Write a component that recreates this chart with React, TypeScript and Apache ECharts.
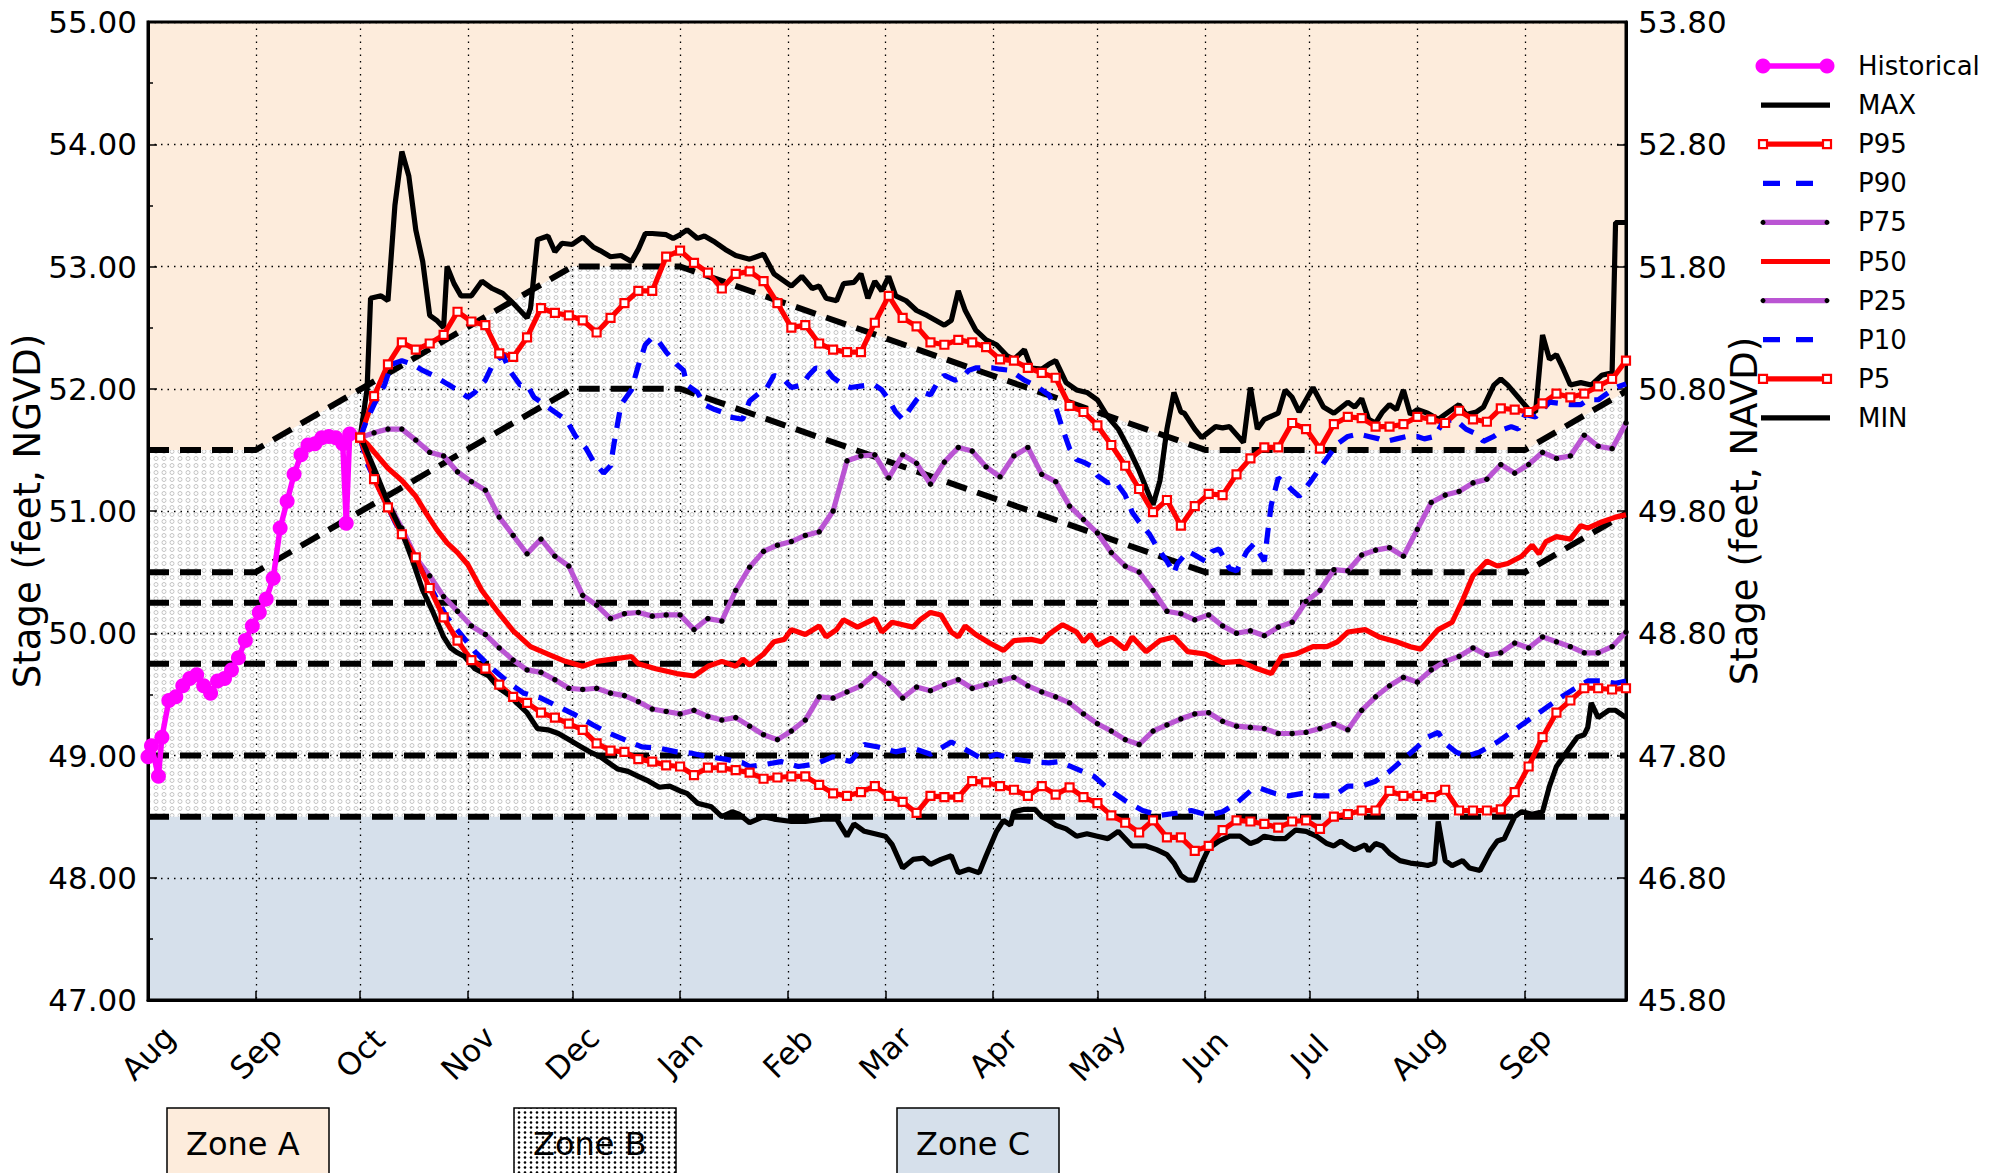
import React, { useEffect, useRef } from "react";
import * as echarts from "echarts";

const FONT = "DejaVu Sans";

// ---- axis definitions ----
const monthStarts = [0, 31, 61, 92, 122, 153, 184, 212, 243, 273, 304, 334, 365, 396];
const monthLabels = ["Aug", "Sep", "Oct", "Nov", "Dec", "Jan", "Feb", "Mar", "Apr", "May", "Jun", "Jul", "Aug", "Sep"];
const xMax = 425;
const yMin = 47;
const yMax = 55;
const navdOffset = 1.2;

// ---- zone rule curves ----
const zoneUpper = [[0, 51.5], [31, 51.5], [122, 53.0], [153, 53.0], [304, 51.5], [396, 51.5], [425, 51.98]];
const zoneLower = [[0, 50.5], [31, 50.5], [122, 52.0], [153, 52.0], [304, 50.5], [396, 50.5], [425, 50.98]];
const ruleLevels = [50.25, 49.75, 49.0, 48.5];
const zoneCTop = 48.5;

// ---- historical ----
const histDays = [0, 1, 3, 4, 6, 8, 10, 12, 14, 16, 18, 20, 22, 24, 26, 28, 30, 32, 34, 36, 38, 40, 42, 44, 46, 48, 50, 52, 54, 56, 57, 58];
const histValues = [48.99, 49.08, 48.83, 49.15, 49.45, 49.48, 49.57, 49.63, 49.66, 49.57, 49.51, 49.61, 49.63, 49.7, 49.8, 49.94, 50.06, 50.17, 50.28, 50.45, 50.86, 51.08, 51.3, 51.46, 51.54, 51.55, 51.6, 51.61, 51.6, 51.55, 50.9, 51.63];

// ---- marker series (sampled every 4 days) ----
const stepDays = [61, 65, 69, 73, 77, 81, 85, 89, 93, 97, 101, 105, 109, 113, 117, 121, 125, 129, 133, 137, 141, 145, 149, 153, 157, 161, 165, 169, 173, 177, 181, 185, 189, 193, 197, 201, 205, 209, 213, 217, 221, 225, 229, 233, 237, 241, 245, 249, 253, 257, 261, 265, 269, 273, 277, 281, 285, 289, 293, 297, 301, 305, 309, 313, 317, 321, 325, 329, 333, 337, 341, 345, 349, 353, 357, 361, 365, 369, 373, 377, 381, 385, 389, 393, 397, 401, 405, 409, 413, 417, 421, 425];
const p95Values = [51.6, 51.94, 52.2, 52.38, 52.32, 52.37, 52.44, 52.63, 52.55, 52.52, 52.29, 52.26, 52.42, 52.66, 52.62, 52.6, 52.56, 52.46, 52.58, 52.7, 52.8, 52.8, 53.08, 53.13, 53.03, 52.95, 52.82, 52.94, 52.96, 52.88, 52.7, 52.5, 52.52, 52.37, 52.32, 52.3, 52.3, 52.54, 52.76, 52.58, 52.51, 52.38, 52.36, 52.4, 52.38, 52.34, 52.24, 52.23, 52.17, 52.13, 52.09, 51.86, 51.81, 51.7, 51.54, 51.37, 51.18, 50.99, 51.09, 50.88, 51.04, 51.14, 51.13, 51.3, 51.43, 51.52, 51.52, 51.72, 51.67, 51.51, 51.71, 51.77, 51.76, 51.69, 51.69, 51.71, 51.77, 51.75, 51.72, 51.82, 51.75, 51.73, 51.84, 51.83, 51.81, 51.88, 51.96, 51.93, 51.96, 52.02, 52.08, 52.23];
const p75Values = [51.6, 51.64, 51.67, 51.67, 51.58, 51.48, 51.45, 51.32, 51.24, 51.17, 50.95, 50.8, 50.65, 50.77, 50.63, 50.55, 50.31, 50.23, 50.12, 50.16, 50.17, 50.14, 50.15, 50.15, 50.03, 50.12, 50.1, 50.35, 50.54, 50.67, 50.72, 50.75, 50.8, 50.83, 51.0, 51.41, 51.45, 51.46, 51.27, 51.46, 51.39, 51.22, 51.4, 51.52, 51.49, 51.36, 51.28, 51.45, 51.52, 51.3, 51.24, 51.04, 50.93, 50.82, 50.66, 50.55, 50.5, 50.35, 50.18, 50.16, 50.11, 50.15, 50.06, 50.0, 50.02, 49.98, 50.05, 50.09, 50.26, 50.35, 50.52, 50.51, 50.64, 50.68, 50.7, 50.63, 50.85, 51.07, 51.13, 51.16, 51.23, 51.26, 51.38, 51.31, 51.38, 51.48, 51.43, 51.45, 51.62, 51.53, 51.51, 51.72];
const p25Values = [51.6, 51.32, 51.07, 50.86, 50.62, 50.47, 50.3, 50.18, 50.06, 49.99, 49.88, 49.78, 49.7, 49.68, 49.62, 49.55, 49.54, 49.55, 49.51, 49.49, 49.44, 49.38, 49.36, 49.34, 49.37, 49.32, 49.29, 49.31, 49.24, 49.17, 49.13, 49.2, 49.29, 49.48, 49.47, 49.52, 49.57, 49.67, 49.59, 49.47, 49.56, 49.53, 49.58, 49.62, 49.55, 49.58, 49.61, 49.64, 49.57, 49.52, 49.48, 49.43, 49.34, 49.26, 49.2, 49.13, 49.09, 49.2, 49.25, 49.3, 49.34, 49.35, 49.28, 49.24, 49.23, 49.22, 49.18, 49.18, 49.19, 49.22, 49.26, 49.21, 49.37, 49.48, 49.57, 49.64, 49.6, 49.7, 49.77, 49.81, 49.88, 49.82, 49.84, 49.92, 49.88, 49.97, 49.93, 49.89, 49.84, 49.84, 49.89, 50.01];
const p5Values = [51.6, 51.26, 51.03, 50.81, 50.62, 50.37, 50.13, 49.94, 49.78, 49.71, 49.58, 49.48, 49.43, 49.35, 49.31, 49.26, 49.21, 49.1, 49.04, 49.03, 48.97, 48.95, 48.92, 48.91, 48.84, 48.9, 48.9, 48.88, 48.86, 48.81, 48.82, 48.83, 48.83, 48.76, 48.69, 48.67, 48.7, 48.75, 48.67, 48.62, 48.53, 48.67, 48.66, 48.66, 48.79, 48.78, 48.75, 48.72, 48.67, 48.75, 48.68, 48.74, 48.66, 48.61, 48.51, 48.45, 48.37, 48.47, 48.33, 48.33, 48.22, 48.26, 48.39, 48.47, 48.46, 48.44, 48.41, 48.46, 48.47, 48.4, 48.5, 48.52, 48.55, 48.55, 48.71, 48.67, 48.67, 48.66, 48.72, 48.55, 48.55, 48.55, 48.56, 48.7, 48.91, 49.15, 49.35, 49.45, 49.55, 49.55, 49.54, 49.55];

// ---- line-only series ([day, stage]) ----
const maxSeries = [[61, 51.6], [63, 52.0], [64, 52.74], [67, 52.76], [69, 52.72], [71, 53.5], [73, 53.94], [75, 53.74], [77, 53.3], [79, 53.04], [81, 52.6], [83, 52.56], [85, 52.5], [86, 53.0], [88, 52.86], [90, 52.76], [93, 52.76], [96, 52.88], [99, 52.82], [102, 52.78], [105, 52.7], [107, 52.64], [109, 52.58], [110, 52.66], [112, 53.22], [115, 53.25], [117, 53.12], [119, 53.19], [122, 53.18], [125, 53.24], [128, 53.16], [130, 53.13], [133, 53.08], [136, 53.09], [139, 53.04], [141, 53.14], [143, 53.27], [145, 53.27], [149, 53.26], [151, 53.23], [153, 53.26], [155, 53.3], [158, 53.23], [160, 53.25], [163, 53.2], [166, 53.14], [169, 53.09], [173, 53.06], [175, 53.08], [177, 53.1], [180, 52.94], [185, 52.84], [188, 52.92], [191, 52.82], [193, 52.84], [195, 52.74], [198, 52.72], [200, 52.86], [203, 52.87], [205, 52.94], [207, 52.74], [209, 52.88], [211, 52.8], [213, 52.92], [215, 52.76], [218, 52.72], [221, 52.64], [224, 52.6], [229, 52.52], [231, 52.56], [233, 52.8], [235, 52.64], [238, 52.48], [241, 52.4], [244, 52.36], [247, 52.27], [249, 52.24], [252, 52.32], [254, 52.17], [257, 52.16], [259, 52.2], [261, 52.23], [264, 52.05], [267, 51.99], [270, 51.97], [273, 51.91], [276, 51.77], [279, 51.67], [282, 51.51], [285, 51.33], [287, 51.19], [289, 51.05], [291, 51.25], [293, 51.67], [295, 51.97], [297, 51.81], [298, 51.8], [301, 51.67], [303, 51.6], [307, 51.69], [309, 51.68], [311, 51.69], [315, 51.56], [317, 52.01], [319, 51.67], [321, 51.75], [325, 51.8], [327, 51.99], [329, 51.93], [331, 51.81], [335, 52.01], [338, 51.85], [341, 51.8], [345, 51.89], [347, 51.85], [349, 51.92], [351, 51.75], [353, 51.72], [355, 51.81], [357, 51.87], [359, 51.83], [361, 51.99], [363, 51.79], [365, 51.83], [368, 51.8], [371, 51.75], [374, 51.81], [377, 51.87], [379, 51.79], [382, 51.81], [384, 51.85], [387, 52.03], [389, 52.08], [391, 52.03], [394, 51.93], [397, 51.83], [399, 51.81], [401, 52.44], [403, 52.24], [405, 52.28], [407, 52.16], [409, 52.03], [412, 52.05], [415, 52.03], [418, 52.11], [421, 52.13], [422, 53.36], [425, 53.36]];

const p90Series = [[61, 51.6], [63, 51.75], [65, 51.87], [68, 52.03], [70, 52.2], [73, 52.23], [76, 52.2], [79, 52.15], [82, 52.11], [86, 52.04], [89, 51.99], [92, 51.93], [94, 51.97], [97, 52.07], [99, 52.19], [102, 52.28], [104, 52.15], [107, 52.03], [109, 52.03], [111, 51.93], [114, 51.87], [116, 51.83], [119, 51.77], [121, 51.71], [123, 51.61], [126, 51.51], [128, 51.41], [131, 51.31], [133, 51.37], [134, 51.55], [135, 51.71], [136, 51.87], [139, 51.99], [141, 52.19], [143, 52.36], [145, 52.42], [147, 52.38], [149, 52.3], [152, 52.2], [154, 52.15], [155, 52.03], [158, 51.97], [160, 51.87], [163, 51.83], [165, 51.81], [167, 51.77], [171, 51.75], [173, 51.9], [176, 51.97], [178, 52.01], [180, 52.11], [183, 52.07], [185, 52.01], [188, 52.03], [190, 52.11], [192, 52.17], [195, 52.16], [197, 52.09], [200, 52.03], [202, 52.01], [207, 52.03], [209, 52.03], [211, 51.99], [213, 51.91], [215, 51.81], [217, 51.75], [219, 51.83], [221, 51.91], [223, 51.97], [225, 51.95], [227, 52.05], [229, 52.11], [232, 52.07], [234, 52.09], [236, 52.15], [238, 52.17], [243, 52.17], [245, 52.16], [248, 52.15], [250, 52.11], [252, 52.07], [255, 52.03], [257, 51.99], [259, 51.95], [261, 51.85], [263, 51.67], [265, 51.51], [267, 51.42], [269, 51.4], [271, 51.37], [273, 51.29], [276, 51.23], [278, 51.25], [281, 51.13], [283, 50.99], [285, 50.91], [288, 50.81], [290, 50.71], [293, 50.59], [295, 50.49], [296, 50.57], [299, 50.67], [301, 50.64], [304, 50.59], [306, 50.67], [308, 50.69], [311, 50.53], [313, 50.51], [316, 50.67], [318, 50.73], [321, 50.59], [322, 50.83], [323, 51.05], [325, 51.27], [327, 51.23], [329, 51.17], [331, 51.12], [334, 51.23], [336, 51.31], [338, 51.39], [340, 51.47], [342, 51.55], [345, 51.61], [348, 51.63], [351, 51.61], [354, 51.59], [356, 51.57], [359, 51.59], [362, 51.61], [365, 51.61], [367, 51.59], [370, 51.61], [372, 51.71], [375, 51.75], [377, 51.72], [379, 51.67], [382, 51.63], [384, 51.57], [387, 51.61], [390, 51.67], [392, 51.69], [394, 51.67], [396, 51.79], [399, 51.77], [401, 51.83], [403, 51.89], [406, 51.88], [409, 51.87], [412, 51.87], [414, 51.91], [417, 51.91], [419, 51.95], [422, 52.01], [425, 52.04]];

const p50Series = [[61, 51.6], [63, 51.55], [66, 51.45], [69, 51.35], [73, 51.25], [77, 51.12], [80, 50.98], [83, 50.85], [86, 50.74], [89, 50.66], [92, 50.56], [96, 50.35], [101, 50.16], [105, 50.02], [110, 49.89], [115, 49.83], [120, 49.77], [125, 49.73], [129, 49.77], [134, 49.79], [139, 49.81], [141, 49.75], [146, 49.71], [152, 49.67], [157, 49.65], [161, 49.73], [165, 49.77], [169, 49.73], [171, 49.79], [173, 49.74], [177, 49.83], [180, 49.93], [183, 49.95], [185, 50.03], [189, 49.99], [193, 50.06], [195, 49.97], [198, 50.03], [200, 50.11], [204, 50.05], [209, 50.12], [211, 50.01], [214, 50.09], [217, 50.07], [220, 50.05], [222, 50.11], [225, 50.17], [228, 50.15], [231, 50.01], [233, 49.97], [235, 50.06], [238, 49.99], [242, 49.92], [246, 49.86], [249, 49.94], [254, 49.95], [257, 49.93], [259, 49.99], [263, 50.07], [267, 50.01], [269, 49.93], [271, 49.99], [273, 49.9], [277, 49.96], [281, 49.87], [283, 49.97], [287, 49.85], [291, 49.94], [295, 49.97], [299, 49.85], [304, 49.83], [309, 49.76], [314, 49.77], [318, 49.72], [323, 49.67], [326, 49.81], [330, 49.83], [335, 49.89], [339, 49.89], [342, 49.93], [345, 50.01], [350, 50.03], [354, 49.97], [359, 49.93], [363, 49.89], [366, 49.87], [371, 50.03], [375, 50.09], [378, 50.27], [381, 50.47], [385, 50.59], [388, 50.55], [391, 50.57], [395, 50.63], [398, 50.72], [400, 50.65], [402, 50.75], [405, 50.79], [409, 50.77], [412, 50.88], [414, 50.86], [418, 50.91], [422, 50.95], [425, 50.97]];

const p10Series = [[61, 51.6], [63, 51.39], [67, 51.15], [71, 50.91], [75, 50.71], [81, 50.39], [84, 50.23], [86, 50.13], [90, 49.99], [94, 49.85], [99, 49.71], [104, 49.59], [108, 49.51], [113, 49.47], [118, 49.4], [123, 49.33], [128, 49.25], [132, 49.19], [137, 49.13], [142, 49.07], [147, 49.06], [152, 49.03], [156, 49.02], [161, 48.99], [166, 48.97], [171, 48.94], [173, 48.91], [178, 48.93], [182, 48.95], [187, 48.91], [192, 48.93], [197, 48.99], [202, 48.95], [206, 49.09], [210, 49.07], [215, 49.03], [220, 49.06], [225, 49.01], [228, 49.06], [231, 49.11], [235, 49.05], [240, 48.97], [244, 49.01], [249, 48.97], [254, 48.95], [259, 48.94], [262, 48.95], [267, 48.89], [272, 48.83], [276, 48.73], [281, 48.63], [286, 48.55], [291, 48.51], [296, 48.53], [300, 48.55], [305, 48.51], [309, 48.54], [313, 48.61], [317, 48.71], [320, 48.73], [324, 48.69], [328, 48.67], [332, 48.69], [336, 48.67], [341, 48.67], [345, 48.75], [349, 48.75], [353, 48.79], [357, 48.87], [361, 48.97], [365, 49.07], [368, 49.15], [371, 49.19], [373, 49.1], [376, 49.03], [379, 48.99], [383, 49.03], [388, 49.11], [391, 49.17], [395, 49.25], [399, 49.33], [403, 49.41], [407, 49.49], [411, 49.56], [414, 49.61], [418, 49.61], [422, 49.59], [425, 49.61]];

const minSeries = [[61, 51.6], [62, 51.55], [65, 51.35], [69, 51.07], [73, 50.83], [76, 50.6], [79, 50.35], [82, 50.17], [85, 49.97], [87, 49.88], [89, 49.84], [91, 49.81], [94, 49.71], [98, 49.65], [101, 49.55], [104, 49.49], [106, 49.43], [109, 49.35], [112, 49.22], [115, 49.21], [118, 49.18], [121, 49.13], [124, 49.08], [127, 49.03], [130, 48.99], [132, 48.95], [135, 48.89], [138, 48.87], [141, 48.83], [144, 48.79], [147, 48.74], [150, 48.75], [153, 48.71], [155, 48.69], [158, 48.61], [162, 48.58], [165, 48.5], [168, 48.54], [170, 48.52], [173, 48.45], [177, 48.5], [180, 48.48], [185, 48.46], [189, 48.46], [194, 48.48], [198, 48.48], [201, 48.34], [203, 48.44], [206, 48.38], [209, 48.36], [212, 48.34], [214, 48.27], [217, 48.08], [220, 48.15], [223, 48.16], [225, 48.11], [228, 48.15], [231, 48.18], [233, 48.04], [236, 48.07], [239, 48.04], [241, 48.18], [244, 48.38], [246, 48.47], [248, 48.43], [249, 48.54], [252, 48.56], [255, 48.56], [257, 48.5], [259, 48.47], [261, 48.43], [264, 48.4], [267, 48.34], [270, 48.36], [273, 48.34], [276, 48.32], [279, 48.38], [283, 48.26], [287, 48.26], [290, 48.23], [293, 48.19], [295, 48.12], [297, 48.02], [299, 47.98], [301, 47.98], [303, 48.12], [305, 48.24], [308, 48.3], [311, 48.34], [314, 48.34], [317, 48.28], [319, 48.3], [321, 48.34], [324, 48.32], [327, 48.32], [330, 48.39], [333, 48.38], [336, 48.34], [339, 48.28], [341, 48.26], [343, 48.3], [345, 48.26], [347, 48.23], [350, 48.27], [351, 48.22], [353, 48.28], [355, 48.26], [357, 48.2], [360, 48.14], [363, 48.12], [366, 48.11], [368, 48.1], [370, 48.12], [371, 48.46], [373, 48.14], [375, 48.1], [378, 48.14], [380, 48.08], [383, 48.06], [386, 48.22], [388, 48.3], [390, 48.32], [393, 48.5], [395, 48.54], [398, 48.52], [401, 48.54], [403, 48.75], [405, 48.91], [408, 49.03], [411, 49.15], [413, 49.17], [414, 49.23], [415, 49.43], [417, 49.31], [420, 49.37], [422, 49.37], [425, 49.31]];

// ---- styles ----
const PEACH = "#fdecdc";
const ZONE_C = "#d6e0eb";
const MAGENTA = "#ff00ff";
const RED = "#ff0000";
const BLUE = "#0000ff";
const ORCHID = "#ba55d3";
const BLACK = "#000000";
const LW = 5.2;
const BLUE_DASH = [16, 11];
const RULE_DASH = [21, 11];

function dotPattern(w: number, h: number, r: number, bg: string, color: string, ring: boolean) {
  const c = document.createElement("canvas");
  c.width = w;
  c.height = h;
  const ctx = c.getContext("2d")!;
  ctx.fillStyle = bg;
  ctx.fillRect(0, 0, w, h);
  ctx.beginPath();
  ctx.arc(w / 2, h / 2, r, 0, Math.PI * 2);
  if (ring) {
    ctx.strokeStyle = color;
    ctx.lineWidth = 1;
    ctx.stroke();
  } else {
    ctx.fillStyle = color;
    ctx.fill();
  }
  return { image: c.toDataURL(), repeat: "repeat", imageWidth: w, imageHeight: h };
}

const legendItems = [
  { name: "Historical", color: MAGENTA, dash: null as number[] | null, marker: "circle", size: 15, fill: MAGENTA },
  { name: "MAX", color: BLACK, dash: null, marker: "", size: 0, fill: "" },
  { name: "P95", color: RED, dash: null, marker: "rect", size: 8, fill: "#ffffff" },
  { name: "P90", color: BLUE, dash: [17, 16], marker: "", size: 0, fill: "" },
  { name: "P75", color: ORCHID, dash: null, marker: "circle", size: 5, fill: BLACK },
  { name: "P50", color: RED, dash: null, marker: "", size: 0, fill: "" },
  { name: "P25", color: ORCHID, dash: null, marker: "circle", size: 5, fill: BLACK },
  { name: "P10", color: BLUE, dash: [17, 16], marker: "", size: 0, fill: "" },
  { name: "P5", color: RED, dash: null, marker: "rect", size: 8, fill: "#ffffff" },
  { name: "MIN", color: BLACK, dash: null, marker: "", size: 0, fill: "" },
];

const zoneBoxes = [
  { label: "Zone A", x: 167, kind: "A" },
  { label: "Zone B", x: 514, kind: "B" },
  { label: "Zone C", x: 897, kind: "C" },
];

export default function App() {
  const ref = useRef<HTMLDivElement>(null);

  useEffect(() => {
    const el = ref.current!;
    const chart = echarts.init(el, undefined, { renderer: "svg", width: 2002, height: 1173 });

    const zoneBPattern = dotPattern(8, 7, 2, "#ffffff", "#c4c4c4", true);
    const zoneBBoxPattern = dotPattern(6, 5, 1.3, "#ffffff", "#000000", false);

    const fillSeries = (data: number[][], color: any) => ({
      type: "line",
      data,
      symbol: "none",
      silent: true,
      z: -1,
      lineStyle: { width: 0, opacity: 0 },
      areaStyle: { color, opacity: 1, origin: "start" },
    });

    const ruleSeries = (data: number[][]) => ({
      type: "line",
      data,
      symbol: "none",
      silent: true,
      z: 1,
      lineStyle: { color: BLACK, width: 6, type: RULE_DASH, cap: "butt" },
    });

    const plainSeries = (name: string, data: number[][], color: string, dash: number[] | null) => ({
      type: "line",
      name,
      data,
      symbol: "none",
      silent: true,
      z: 3,
      lineStyle: { color, width: LW, type: dash || "solid", cap: "butt" },
    });

    const markerSeries = (name: string, data: number[][], color: string, symbol: string, size: number, symFill: string, symBorder: string, bw: number, lw: number) => ({
      type: "line",
      name,
      data,
      symbol,
      symbolSize: size,
      showSymbol: true,
      showAllSymbol: true,
      silent: true,
      z: 3,
      lineStyle: { color, width: lw },
      itemStyle: { color: symFill, borderColor: symBorder, borderWidth: bw },
    });

    const pair = (days: number[], vals: number[]) => days.map((d, i) => [d, vals[i]]);

    const series: any[] = [
      fillSeries([[0, yMax], [xMax, yMax]], PEACH),
      fillSeries(zoneUpper, zoneBPattern),
      fillSeries([[0, zoneCTop], [xMax, zoneCTop]], ZONE_C),
      ruleSeries(zoneUpper),
      ruleSeries(zoneLower),
      ...ruleLevels.map((v) => ruleSeries([[0, v], [xMax, v]])),
      markerSeries("Historical", pair(histDays, histValues), MAGENTA, "circle", 15, MAGENTA, MAGENTA, 0, 5.5),
      plainSeries("MAX", maxSeries, BLACK, null),
      markerSeries("P95", pair(stepDays, p95Values), RED, "rect", 8, "#ffffff", RED, 2.2, LW),
      plainSeries("P90", p90Series, BLUE, BLUE_DASH),
      markerSeries("P75", pair(stepDays, p75Values), ORCHID, "circle", 5.5, BLACK, BLACK, 0, LW),
      plainSeries("P50", p50Series, RED, null),
      markerSeries("P25", pair(stepDays, p25Values), ORCHID, "circle", 5.5, BLACK, BLACK, 0, LW),
      plainSeries("P10", p10Series, BLUE, BLUE_DASH),
      markerSeries("P5", pair(stepDays, p5Values), RED, "rect", 8, "#ffffff", RED, 2.2, LW),
      plainSeries("MIN", minSeries, BLACK, null),
    ];

    // legend drawn as graphics (matplotlib style: markers at both ends)
    const graphics: any[] = [];
    legendItems.forEach((it, i) => {
      const y = 66 + i * 39.1;
      graphics.push({
        type: "line",
        silent: true,
        shape: { x1: it.dash ? 1763 : it.marker ? 1763 : 1761, y1: y, x2: it.dash ? 1813 : it.marker ? 1827 : 1830, y2: y },
        style: { stroke: it.color, lineWidth: it.name === "Historical" ? 5.5 : LW, lineDash: it.dash || null },
      });
      [1763, 1827].forEach((x) => {
        if (it.marker === "circle") {
          graphics.push({ type: "circle", silent: true, shape: { cx: x, cy: y, r: it.size / 2 }, style: { fill: it.fill } });
        } else if (it.marker === "rect") {
          graphics.push({
            type: "rect",
            silent: true,
            shape: { x: x - it.size / 2, y: y - it.size / 2, width: it.size, height: it.size },
            style: { fill: it.fill, stroke: it.color, lineWidth: 2.2 },
          });
        }
      });
      graphics.push({
        type: "text",
        silent: true,
        x: 1858,
        y,
        style: { text: it.name, fontSize: 26, fontFamily: FONT, fill: BLACK, align: "left", verticalAlign: "middle" },
      });
    });

    zoneBoxes.forEach((b) => {
      const fill = b.kind === "A" ? PEACH : b.kind === "C" ? ZONE_C : zoneBBoxPattern;
      graphics.push({
        type: "rect",
        silent: true,
        shape: { x: b.x, y: 1108, width: 162, height: 72 },
        style: { fill, stroke: BLACK, lineWidth: 1.5 },
      });
      graphics.push({
        type: "text",
        silent: true,
        x: b.x + 19,
        y: 1144,
        style: { text: b.label, fontSize: 32, fontFamily: FONT, fill: BLACK, align: "left", verticalAlign: "middle" },
      });
    });

    const dotted = { color: BLACK, width: 1.3, type: [1.5, 5] };

    const option: any = {
      animation: false,
      backgroundColor: "#ffffff",
      grid: {
        left: 148,
        top: 22,
        width: 1478,
        height: 978,
        show: true,
        borderColor: BLACK,
        borderWidth: 3,
        backgroundColor: "transparent",
        containLabel: false,
        outerBoundsMode: "none",
      },
      xAxis: {
        type: "value",
        min: 0,
        max: xMax,
        axisLine: { show: true, onZero: false, lineStyle: { color: BLACK, width: 3 } },
        axisTick: { show: true, inside: true, length: 9, customValues: monthStarts, lineStyle: { color: BLACK, width: 1.5 } },
        axisLabel: {
          customValues: monthStarts,
          formatter: (v: number) => {
            const i = monthStarts.indexOf(Math.round(v));
            return i >= 0 ? monthLabels[i] : "";
          },
          rotate: 45,
          align: "center",
          verticalAlign: "middle",
          margin: 53,
          fontSize: 31,
          fontFamily: FONT,
          color: BLACK,
        },
        splitLine: { show: true, lineStyle: dotted },
      },
      yAxis: [
        {
          type: "value",
          position: "left",
          min: yMin,
          max: yMax,
          interval: 1,
          name: "Stage (feet, NGVD)",
          nameLocation: "middle",
          nameGap: 102,
          nameMoveOverlap: false,
          nameTextStyle: { fontSize: 37, fontFamily: FONT, color: BLACK },
          axisLine: { show: true, onZero: false, lineStyle: { color: BLACK, width: 3 } },
          axisTick: { show: true, inside: true, length: 9, lineStyle: { color: BLACK, width: 1.5 } },
          minorTick: { show: true, splitNumber: 2, length: 5, lineStyle: { color: BLACK, width: 1.5 } },
          axisLabel: { formatter: (v: number) => v.toFixed(2), fontSize: 31, fontFamily: FONT, color: BLACK, margin: 11 },
          splitLine: { show: true, lineStyle: dotted },
        },
        {
          type: "value",
          position: "right",
          min: yMin,
          max: yMax,
          interval: 1,
          name: "Stage (feet, NAVD)",
          nameLocation: "middle",
          nameGap: 100,
          nameRotate: 90,
          nameMoveOverlap: false,
          nameTextStyle: { fontSize: 37, fontFamily: FONT, color: BLACK },
          axisLine: { show: true, onZero: false, lineStyle: { color: BLACK, width: 3 } },
          axisTick: { show: true, inside: true, length: 9, lineStyle: { color: BLACK, width: 1.5 } },
          axisLabel: { formatter: (v: number) => (v - navdOffset).toFixed(2), fontSize: 31, fontFamily: FONT, color: BLACK, margin: 12 },
          splitLine: { show: false },
        },
      ],
      series,
      graphic: { elements: graphics },
    };

    chart.setOption(option);
    return () => chart.dispose();
  }, []);

  return <div ref={ref} style={{ position: "absolute", left: 0, top: 0, width: 2002, height: 1173 }} />;
}
